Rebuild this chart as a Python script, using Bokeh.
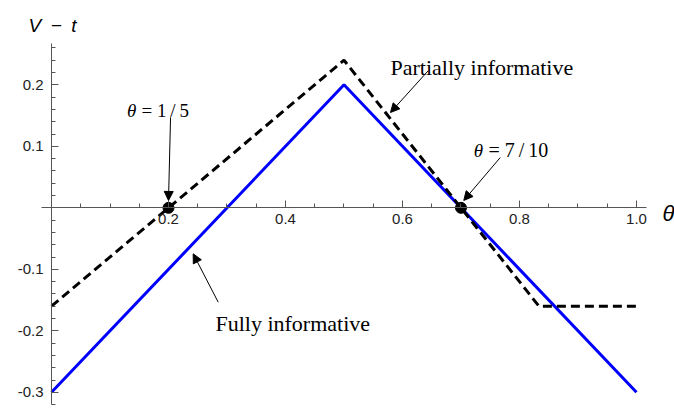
from bokeh.plotting import figure
from bokeh.models import (Range1d, LinearAxis, FixedTicker, PrintfTickFormatter,
                          Label, Arrow, NormalHead)
from bokeh.embed import file_html
from bokeh.resources import INLINE

# ---- data ----
theta_full = [0.0, 0.5, 1.0]
v_full = [-0.3, 0.2, -0.3]

theta_partial = [0.0, 0.5, 5/6, 1.0]
v_partial = [-0.16, 0.24, -0.16, -0.16]

dot_theta = [0.2, 0.7]
dot_v = [0.0, 0.0]

x_major = [0.2, 0.4, 0.6, 0.8, 1.0]
x_minor = [0.05, 0.1, 0.15, 0.25, 0.3, 0.35, 0.45, 0.5, 0.55,
           0.65, 0.7, 0.75, 0.85, 0.9, 0.95]
y_major = [-0.3, -0.2, -0.1, 0.1, 0.2]
y_minor = [-0.32, -0.28, -0.26, -0.24, -0.22, -0.18, -0.16, -0.14, -0.12,
           -0.08, -0.06, -0.04, -0.02, 0.02, 0.04, 0.06, 0.08,
           0.12, 0.14, 0.16, 0.18, 0.22, 0.24, 0.26]

# annotation arrows: (x_start, y_start, x_end, y_end)
arrow_15 = (0.2035, 0.147, 0.2, 0.012)
arrow_partial = (0.644, 0.223, 0.5795, 0.155)
arrow_710 = (0.7672, 0.0818, 0.7048, 0.012)
arrow_full = (0.285, -0.1535, 0.2422, -0.0748)

p = figure(width=674, height=412,
           x_range=Range1d(-0.0872, 1.065), y_range=Range1d(-0.3328, 0.3371),
           x_axis_location=None, y_axis_location=None,
           toolbar_location=None, output_backend="svg",
           min_border=0, outline_line_color=None, background_fill_color="white")
for g in p.grid:
    g.visible = False

def style_axis(ax):
    ax.axis_line_color = "#555555"
    ax.axis_line_width = 1
    ax.major_tick_in = 7
    ax.major_tick_out = 0
    ax.minor_tick_in = 4
    ax.minor_tick_out = 0
    ax.major_tick_line_color = "#555555"
    ax.minor_tick_line_color = "#555555"
    ax.major_label_text_font = "Liberation Sans"
    ax.major_label_text_font_size = "15px"
    ax.major_label_text_color = "#222222"

xaxis = LinearAxis(fixed_location=0, bounds=(-0.017, 1.017),
                   ticker=FixedTicker(ticks=x_major, minor_ticks=x_minor),
                   formatter=PrintfTickFormatter(format="%.1f"))
style_axis(xaxis)
xaxis.major_label_standoff = 6
p.add_layout(xaxis, "below")

yaxis = LinearAxis(fixed_location=0, bounds=(-0.32, 0.267),
                   ticker=FixedTicker(ticks=y_major, minor_ticks=y_minor),
                   formatter=PrintfTickFormatter(format="%.1f"))
style_axis(yaxis)
yaxis.major_label_standoff = 8
p.add_layout(yaxis, "left")

p.line(theta_full, v_full, line_color="#0000ff", line_width=3)
p.line(theta_partial, v_partial, line_color="black", line_width=3, line_dash="9 5")
p.scatter(dot_theta, dot_v, size=11, color="black")

for (xs, ys, xe, ye) in [arrow_15, arrow_partial, arrow_710, arrow_full]:
    p.add_layout(Arrow(x_start=xs, y_start=ys, x_end=xe, y_end=ye, line_width=1,
                       line_color="black",
                       end=NormalHead(size=9, fill_color="black", line_color="black")))

serif = "Liberation Serif"
def lab(x, y, text, font=serif, size="19px", style="normal"):
    p.add_layout(Label(x=x, y=y, text=text, text_font=font, text_font_size=size,
                       text_font_style=style, text_baseline="alphabetic",
                       text_align="left", text_color="black"))

lab(0.129, 0.158, "\u03b8", style="italic")
lab(0.154, 0.158, "= 1\u2009/\u20095")
lab(0.722, 0.0935, "\u03b8", style="italic")
lab(0.747, 0.0935, "= 7\u2009/\u200910", size="20px")
lab(0.5795, 0.228, "Partially informative", size="22px")
lab(0.2803, -0.1886, "Fully informative", size="22px")

lab(-0.0393, 0.2964, "V\u2002\u2212\u2002t", font="Liberation Sans", size="19px", style="italic")
lab(1.0444, -0.0093, "\u03b8", font="Liberation Sans", size="22px", style="italic")

open("out.html", "w").write(file_html(p, INLINE))
